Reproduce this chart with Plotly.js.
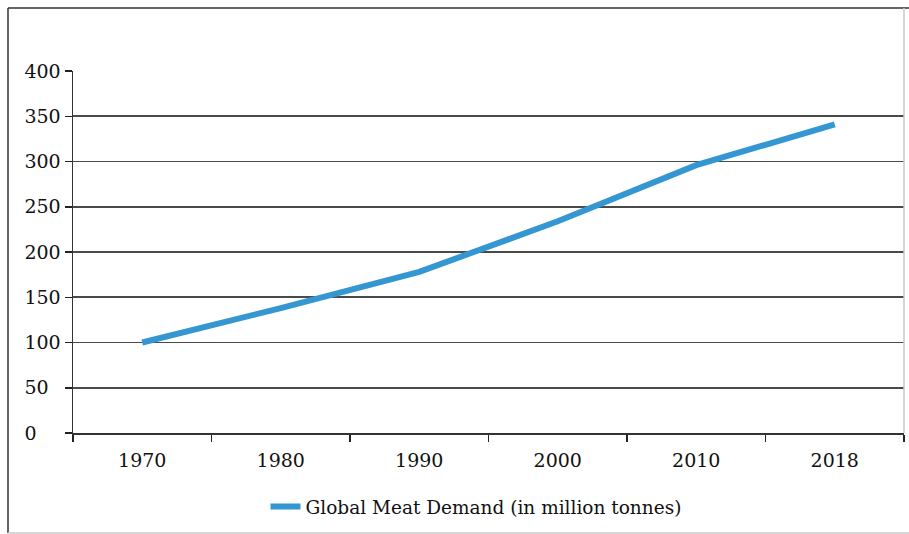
<!DOCTYPE html>
<html>
<head>
<meta charset="utf-8">
<script src="https://cdn.plot.ly/plotly-3.0.1.min.js"></script>
<style>html,body{margin:0;padding:0;background:#fff;}#chart{width:909px;height:534px;}</style>
</head>
<body>
<div id="chart"></div>
<script>
const years = ["1970", "1980", "1990", "2000", "2010", "2018"];
const meatDemand = [100, 138, 178, 234, 296, 341];
const seriesName = "Global Meat Demand (in million tonnes)";
const yTickVals = [0, 50, 100, 150, 200, 250, 300, 350, 400];
const yTickText = ["0\u2007\u2007", "50\u2007", "100", "150", "200", "250", "300", "350", "400"];

const W = 909, H = 534;
const M = {l: 73, r: 5, t: 71, b: 101};
const pw = W - M.l - M.r, ph = H - M.t - M.b;
const px = x => (x - M.l) / pw;
const py = y => (H - M.b - y) / ph;
const font = "DejaVu Serif, Liberation Serif, serif";
const txt = "#111";

const trace = {
  x: years, y: meatDemand, name: seriesName, type: "scatter", mode: "lines",
  line: {color: "#3597d1", width: 6}, showlegend: true
};

const layout = {
  width: W, height: H,
  margin: M,
  paper_bgcolor: "#fff", plot_bgcolor: "#fff",
  font: {family: font, size: 18, color: txt},
  xaxis: {
    type: "category", range: [-0.5, 5.5], tickson: "boundaries",
    ticks: "outside", ticklen: 7, tickwidth: 1.5, tickcolor: "#222",
    showline: true, linecolor: "#333", linewidth: 2,
    showgrid: false, zeroline: false,
    tickfont: {family: font, size: 19, color: txt},
    ticklabelstandoff: 9
  },
  yaxis: {
    range: [0, 400], tickvals: yTickVals, ticktext: yTickText,
    ticks: "outside", ticklen: 7, tickwidth: 1.5, tickcolor: "#222",
    showline: true, linecolor: "#333", linewidth: 1.5,
    showgrid: true, gridcolor: "#4a4a4a", gridwidth: 1.8,
    zeroline: false,
    tickfont: {family: font, size: 19, color: txt}
  },
  showlegend: true,
  legend: {
    orientation: "h", x: px(476), xanchor: "center", y: py(507), yanchor: "middle",
    font: {family: font, size: 18.5, color: txt},
    itemwidth: 30, bgcolor: "rgba(0,0,0,0)"
  },
  shapes: [
    {type: "line", xref: "paper", yref: "paper", x0: px(8), x1: px(8), y0: py(8), y1: py(533), line: {color: "#333", width: 1.5}},
    {type: "line", xref: "paper", yref: "paper", x0: px(8), x1: px(909), y0: py(8), y1: py(8), line: {color: "#333", width: 1.5}},
    {type: "line", xref: "paper", yref: "paper", x0: px(8), x1: px(909), y0: py(533), y1: py(533), line: {color: "#c8c8c8", width: 1.5}},
    {type: "line", xref: "paper", yref: "paper", x0: px(904), x1: px(904), y0: py(8), y1: py(433), line: {color: "#c8c8c8", width: 1.5}}
  ]
};

Plotly.newPlot("chart", [trace], layout, {displayModeBar: false, staticPlot: true});
</script>
</body>
</html>
